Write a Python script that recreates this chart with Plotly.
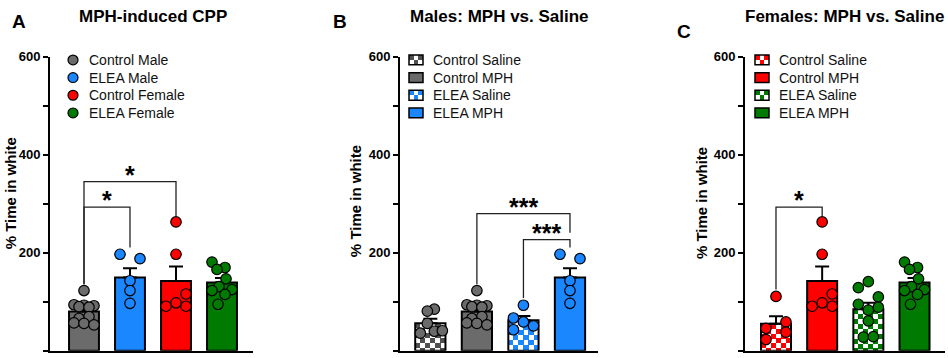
import math
import base64
import numpy as np
import plotly.graph_objects as go

# ------------------------------------------------------------------ data
control_male = [123, 94, 93, 92, 90, 89, 70, 66, 57, 56, 53]
elea_male = [197, 188, 143, 123, 97]
control_female = [263, 197, 116, 98, 91, 91]
elea_female = [181, 170, 166, 147, 131, 125, 123, 115, 95]
control_saline_m = [85, 81, 56, 36, 40, 41]
elea_saline_m = [93, 67, 59, 51, 43]
control_saline_f = [111, 59, 46, 38, 23]
elea_saline_f = [141, 129, 110, 95, 83, 89, 61, 28, 29]

# horizontal scatter of the dots (pixels)
jit_control_male = [0, -10, 0, 10, -5, 5, 5, -5, -10, 0, 10]
jit_elea_male = [-10, 10, 0, 0, 0]
jit_control_female = [0, 0, 10, 0, -10, 10]
jit_elea_female = [-10, 3, -5, 4, -3, 10, -10, 3, -4]
jit_control_saline_m = [4, -3, -3, -10, 4, 12]
jit_elea_saline_m = [0, -10, 0, 10, -10]
jit_control_saline_f = [0, 10, -10, 10, -10]
jit_elea_saline_f = [0, -10, 10, -10, 0, 10, 0, -5, 5]

cats_a = ["Control Male", "ELEA Male", "Control Female", "ELEA Female"]
cats_b = ["Control Saline", "Control MPH", "ELEA Saline", "ELEA MPH"]
cats_c = ["Control Saline", "Control MPH", "ELEA Saline", "ELEA MPH"]

titles = ["MPH-induced CPP", "Males: MPH vs. Saline", "Females: MPH vs. Saline"]
panel_letters = ["A", "B", "C"]
y_title = "% Time in white"
y_ticks = [0, 200, 400, 600]
y_minor = [100, 300, 500]

# significance brackets: (group i, group j, top, left foot, right foot, label)
brackets_a = [(0, 2, 345, 136, 275, "*"), (0, 1, 293, 136, 211, "*")]
brackets_b = [(1, 3, 280, 136, 241, "***"), (2, 3, 227, 108, 211, "***")]
brackets_c = [(0, 1, 293, 125, 275, "*")]

# ------------------------------------------------------------------ style
W, H = 948, 358
FONT = "Liberation Sans, Arial, sans-serif"
GRAY, GRAY_CHK = "#6b6b6b", "#4f4f4f"
BLUE, RED, GREEN = "#1a86ff", "#ff0000", "#007a00"

Y_TOP_PX, Y_BOT_PX = 50.7, 350.7
PX_PER_UNIT = (Y_BOT_PX - Y_TOP_PX) / 600.0
BAR_W = 0.65


def px(x):
    return x / W


def py(y):
    return 1 - y / H


def checker_uri(color, cols, rows):
    nrow = int(math.ceil(rows)) + 1
    rects = "".join(
        f'<rect x="{c}" y="{r}" width="1.02" height="1.02" fill="{color}"/>'
        for r in range(nrow) for c in range(cols) if (r + c) % 2 == 0)
    svg = (f'<svg xmlns="http://www.w3.org/2000/svg" viewBox="0 0 {cols} {rows:.3f}" '
           f'preserveAspectRatio="none" width="{cols * 20}" height="{rows * 20:.1f}" '
           f'shape-rendering="crispEdges">'
           f'<rect x="0" y="0" width="{cols}" height="{nrow}" fill="white"/>{rects}</svg>')
    return "data:image/svg+xml;base64," + base64.b64encode(svg.encode()).decode()


panels = [
    dict(ax="", x0=50, x1=253, spacing=46.0, lo=-0.739, hi=3.674, cats=cats_a,
         groups=[control_male, elea_male, control_female, elea_female],
         jit=[jit_control_male, jit_elea_male, jit_control_female, jit_elea_female],
         colors=[GRAY, BLUE, RED, GREEN], chk=[None, None, None, None],
         brackets=brackets_a, legend_kind="circle",
         leg_sym_x=73, leg_txt_x=87, title_xy=(153, 10), letter_xy=(18.5, 15),
         ytitle_xy=(10, 190)),
    dict(ax="2", x0=400, x1=598, spacing=46.5, lo=-0.652, hi=3.602, cats=cats_b,
         groups=[control_saline_m, control_male, elea_saline_m, elea_male],
         jit=[jit_control_saline_m, jit_control_male, jit_elea_saline_m, jit_elea_male],
         colors=[GRAY, GRAY, BLUE, BLUE], chk=[GRAY_CHK, None, BLUE, None],
         brackets=brackets_b, legend_kind="square",
         leg_sym_x=416, leg_txt_x=431, title_xy=(499.5, 10), letter_xy=(340, 15),
         ytitle_xy=(355, 198)),
    dict(ax="3", x0=745, x1=945, spacing=46.2, lo=-0.671, hi=3.66, cats=cats_c,
         groups=[control_saline_f, control_female, elea_saline_f, elea_female],
         jit=[jit_control_saline_f, jit_control_female, jit_elea_saline_f, jit_elea_female],
         colors=[RED, RED, GREEN, GREEN], chk=[RED, None, GREEN, None],
         brackets=brackets_c, legend_kind="square",
         leg_sym_x=762, leg_txt_x=777, title_xy=(844, 10), letter_xy=(684, 25),
         ytitle_xy=(701, 200)),
]

fig = go.Figure()
shapes, annotations, images = [], [], []
layout_axes = {}
leg_rows = [54, 72, 90, 108]

for p in panels:
    xa, ya = "x" + p["ax"], "y" + p["ax"]
    means = [float(np.mean(g)) for g in p["groups"]]
    sems = [float(np.std(g, ddof=1) / np.sqrt(len(g))) for g in p["groups"]]
    fills = ["rgba(0,0,0,0)" if c else col for c, col in zip(p["chk"], p["colors"])]
    fig.add_trace(go.Bar(
        x=list(range(4)), y=means, width=BAR_W, xaxis=xa, yaxis=ya,
        marker=dict(color=fills, line=dict(color="black", width=2)),
        error_y=dict(type="data", array=sems, arrayminus=[0] * 4, symmetric=False,
                     color="black", thickness=2, width=7),
        showlegend=False, hoverinfo="skip"))
    for i, (g, j, col) in enumerate(zip(p["groups"], p["jit"], p["colors"])):
        fig.add_trace(go.Scatter(
            x=[i + d / p["spacing"] for d in j], y=g, mode="markers",
            xaxis=xa, yaxis=ya, cliponaxis=False, showlegend=False,
            marker=dict(size=10.5, color=col, line=dict(color="black", width=1.2))))
    # checkered bars
    for i, c in enumerate(p["chk"]):
        if c:
            bar_px = BAR_W * p["spacing"]
            rows = means[i] * PX_PER_UNIT / (bar_px / 6)
            images.append(dict(source=checker_uri(c, 6, rows), xref=xa, yref=ya,
                               x=i - BAR_W / 2, y=means[i], sizex=BAR_W, sizey=means[i],
                               xanchor="left", yanchor="top", sizing="stretch",
                               layer="below"))
    # brackets
    for (a, b, top, lf, rf, lab) in p["brackets"]:
        shapes.append(dict(type="path", xref=xa, yref=ya,
                           path=f"M {a},{lf} L {a},{top} L {b},{top} L {b},{rf}",
                           line=dict(color="#222", width=1.3)))
        annotations.append(dict(xref=xa, yref=ya, x=(a + b) / 2, y=top, text=f"<b>{lab}</b>",
                                showarrow=False, yanchor="middle", yshift=7,
                                font=dict(family=FONT, size=25, color="black")))
    # axes
    layout_axes["xaxis" + p["ax"]] = dict(
        domain=[px(p["x0"]), px(p["x1"])], range=[p["lo"], p["hi"]], anchor=ya,
        showline=True, linecolor="black", linewidth=2, showticklabels=False,
        ticks="", showgrid=False, zeroline=False, fixedrange=True)
    layout_axes["yaxis" + p["ax"]] = dict(
        domain=[py(Y_BOT_PX), py(Y_TOP_PX)], range=[0, 600], anchor=xa,
        showline=True, linecolor="black", linewidth=2, showgrid=False, zeroline=False,
        tickvals=y_ticks, ticks="outside", ticklen=5, tickwidth=2, tickcolor="black",
        tickfont=dict(family=FONT, size=13, color="black", weight="bold"),
        minor=dict(tickvals=y_minor, ticks="outside", ticklen=5, tickwidth=2,
                   tickcolor="black"))
    # titles, letters, axis title
    tx, ty = p["title_xy"]
    annotations.append(dict(xref="paper", yref="paper", x=px(tx), y=py(ty),
                            text=f"<b>{titles[panels.index(p)]}</b>", showarrow=False,
                            xanchor="center", yanchor="middle",
                            font=dict(family=FONT, size=17, color="black")))
    lx, ly = p["letter_xy"]
    annotations.append(dict(xref="paper", yref="paper", x=px(lx), y=py(ly),
                            text=f"<b>{panel_letters[panels.index(p)]}</b>", showarrow=False,
                            xanchor="center", yanchor="middle",
                            font=dict(family=FONT, size=19, color="black")))
    yx, yy = p["ytitle_xy"]
    annotations.append(dict(xref="paper", yref="paper", x=px(yx), y=py(yy),
                            text=f"<b>{y_title}</b>", showarrow=False, textangle=-90,
                            xanchor="center", yanchor="middle",
                            font=dict(family=FONT, size=15, color="black")))
    # legend
    for k, (lab, col, c) in enumerate(zip(p["cats"], p["colors"], p["chk"])):
        ry = leg_rows[k]
        sx = p["leg_sym_x"]
        if p["legend_kind"] == "circle":
            shapes.append(dict(type="circle", xref="paper", yref="paper",
                               x0=px(sx - 5), x1=px(sx + 5), y0=py(ry + 5), y1=py(ry - 5),
                               fillcolor=col, line=dict(color="black", width=1.2)))
        else:
            if c:
                images.append(dict(source=checker_uri(c, 3, 2), xref="paper", yref="paper",
                                   x=px(sx - 7), y=py(ry - 5), sizex=14 / W, sizey=10 / H,
                                   xanchor="left", yanchor="top", sizing="stretch",
                                   layer="above"))
                shapes.append(dict(type="rect", xref="paper", yref="paper",
                                   x0=px(sx - 7), x1=px(sx + 7), y0=py(ry + 5), y1=py(ry - 5),
                                   fillcolor="rgba(0,0,0,0)", line=dict(color="black", width=1.5)))
            else:
                shapes.append(dict(type="rect", xref="paper", yref="paper",
                                   x0=px(sx - 7), x1=px(sx + 7), y0=py(ry + 5), y1=py(ry - 5),
                                   fillcolor=col, line=dict(color="black", width=1.5)))
        annotations.append(dict(xref="paper", yref="paper", x=px(p["leg_txt_x"]), y=py(ry),
                                text=lab, showarrow=False, xanchor="left", yanchor="middle",
                                font=dict(family=FONT, size=14, color="#111")))

fig.update_layout(
    width=W, height=H, margin=dict(l=0, r=0, t=0, b=0),
    paper_bgcolor="white", plot_bgcolor="white", showlegend=False,
    shapes=shapes, annotations=annotations, images=images, **layout_axes)

fig.write_html("out.html", config={"displayModeBar": False},
               post_script="document.body.style.margin='0';document.body.style.overflow='hidden';")
